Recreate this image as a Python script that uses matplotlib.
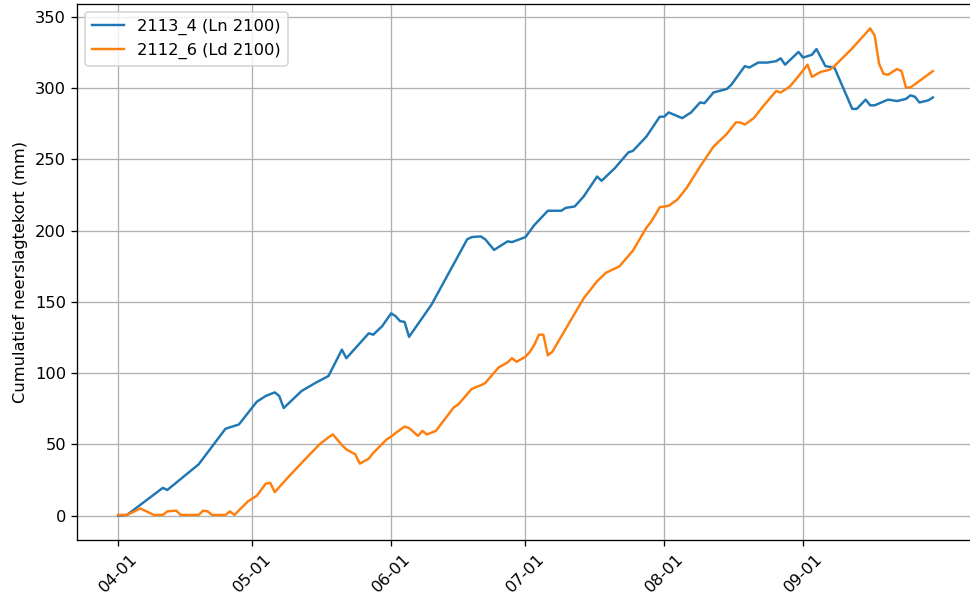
import matplotlib
matplotlib.use("Agg")
import matplotlib.pyplot as plt
import matplotlib.dates as mdates
import pandas as pd

# days after 1 April
start = pd.Timestamp("2021-04-01")

ln_days = [0, 2, 10, 11, 18, 24, 27, 31, 33, 35, 36, 37, 41, 44, 47, 50, 51, 54, 56, 57,
           59, 61, 62, 63, 64, 65, 70, 78, 79, 81, 82, 84, 87, 88, 91, 93, 96, 99, 100, 102,
           104, 107, 108, 111, 114, 115, 118, 121, 122, 123, 126, 128, 130, 131, 133, 136,
           137, 140, 141, 143, 145, 147, 148, 149, 152, 153, 155, 156, 158, 160, 164, 165,
           167, 168, 169, 172, 174, 176, 177, 178, 179, 181, 182]
ln_vals = [0, 0.5, 19.5, 18, 36, 61, 64, 80, 84, 86.5, 84, 75.5, 87.5, 93, 98, 116.5, 110.5,
           121, 128, 127, 133, 142, 140, 136.5, 136, 125.5, 148, 194, 195.5, 196, 194, 186.5,
           192.5, 192, 195.5, 204, 214, 214, 216, 217, 224, 238, 235, 244, 255, 256, 266, 280,
           280, 283, 279, 283, 290, 289.5, 297, 299.5, 302.5, 315.5, 314.5, 318, 318, 319, 321,
           316.5, 325.5, 321.5, 323.5, 327.5, 315.5, 314.5, 285.5, 285.5, 292, 288, 288, 292,
           291, 292.5, 295, 294, 290, 291.5, 293.5]

ld_days = [0, 2, 5, 6, 8, 10, 11, 13, 14, 18, 19, 20, 21, 24, 25, 26, 29, 31, 33, 34, 35, 36,
           38, 41, 45, 47, 48, 50, 51, 53, 54, 56, 57, 60, 61, 62, 64, 65, 67, 68, 69, 71, 75,
           76, 79, 81, 82, 85, 87, 88, 89, 91, 92, 93, 94, 95, 96, 97, 101, 104, 107, 109, 112,
           115, 118, 119, 120, 121, 123, 125, 127, 130, 133, 135, 136, 138, 139, 140, 142, 144,
           147, 148, 150, 152, 154, 155, 157, 159, 160, 164, 168, 169, 170, 171, 172, 174, 175,
           176, 177, 182]
ld_vals = [0.5, 0.5, 5, 3.5, 0.5, 0.5, 3, 3.5, 0.5, 0.5, 3.5, 3, 0.5, 0.5, 3, 0.5, 10, 14, 22.5,
           23, 16.5, 20, 27, 37, 50, 55, 57, 49.5, 46.5, 43, 36.5, 40, 44, 53.5, 55.5, 58, 62.5,
           61.5, 56, 59.5, 57, 59.5, 76, 78, 89, 91.5, 93, 104, 107.5, 110.5, 108, 111.5, 115,
           120, 127, 127, 112.5, 115, 136.5, 152.5, 164.5, 170.5, 175, 186, 202, 206, 211, 216.5,
           217.5, 222, 230, 245, 259, 265, 268, 276, 276, 274.5, 279, 287, 298, 297, 301, 308.5,
           316.5, 308, 311.5, 313, 315.5, 328, 342, 337, 317, 310, 309.5, 313.5, 312, 300.5,
           300.5, 312]

labels = ["2113_4 (Ln 2100)", "2112_6 (Ld 2100)"]
tick_months = ["2021-04-01", "2021-05-01", "2021-06-01", "2021-07-01", "2021-08-01", "2021-09-01"]

ln_dates = start + pd.to_timedelta(ln_days, unit="D")
ld_dates = start + pd.to_timedelta(ld_days, unit="D")

dpi = 117
fig = plt.figure(figsize=(970 / dpi, 599 / dpi), dpi=dpi)
# right spine falls just outside the picture, as in the reference
ax = fig.add_axes([0.0797, 0.0985, 0.924, 0.8948])
ax.plot(ln_dates, ln_vals, label=labels[0])
ax.plot(ld_dates, ld_vals, label=labels[1])

ax.set_xticks(pd.to_datetime(tick_months))
ax.xaxis.set_major_formatter(mdates.DateFormatter("%m-%d"))
plt.setp(ax.get_xticklabels(), rotation=45)
ax.set_ylabel("Cumulatief neerslagtekort (mm)")
ax.grid(True)
ax.legend(loc="upper left")

fig.savefig("out.png", dpi=dpi)
